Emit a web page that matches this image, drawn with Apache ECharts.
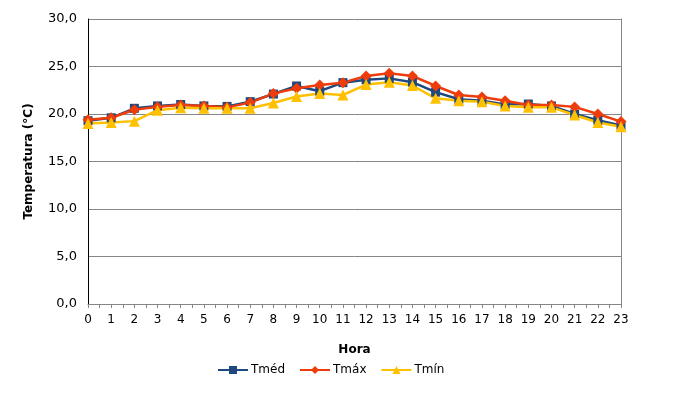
<!DOCTYPE html>
<html lang="pt">
<head>
    <meta charset="UTF-8">
    <title>Temperatura por hora</title>
    <script src="https://cdn.jsdelivr.net/npm/echarts@6/dist/echarts.min.js"></script>
    <style>
        html, body { margin: 0; padding: 0; background: #fff; }
        #chart { width: 678px; height: 402px; }
    </style>
</head>
<body>
<div id="chart"></div>
<script>
    // dados
    var horas = [0, 1, 2, 3, 4, 5, 6, 7, 8, 9, 10, 11, 12, 13, 14, 15, 16, 17, 18, 19, 20, 21, 22, 23];
    var tMed = [19.3, 19.6, 20.6, 20.85, 21.0, 20.85, 20.8, 21.3, 22.1, 22.95, 22.4, 23.3, 23.6, 23.75, 23.35, 22.3, 21.55, 21.4, 21.0, 21.05, 20.85, 20.0, 19.35, 18.8];
    var tMax = [19.4, 19.6, 20.45, 20.75, 20.95, 20.85, 20.7, 21.2, 22.15, 22.7, 23.05, 23.3, 24.0, 24.3, 24.0, 22.95, 22.0, 21.8, 21.4, 20.95, 20.95, 20.75, 20.0, 19.2];
    var tMin = [19.0, 19.1, 19.25, 20.4, 20.65, 20.6, 20.6, 20.6, 21.15, 21.85, 22.15, 22.0, 23.1, 23.35, 23.0, 21.65, 21.4, 21.3, 20.85, 20.7, 20.7, 19.9, 19.1, 18.65];
    var nomes = ['Tméd', 'Tmáx', 'Tmín'];

    function pares(valores) {
        return horas.map(function (h, i) { return [h, valores[i]]; });
    }

    var fonte = 'DejaVu Sans';
    var chart = echarts.init(document.getElementById('chart'));

    function serie(nome, dados, cor, simbolo, tamanho) {
        return {
            name: nome,
            type: 'line',
            data: pares(dados),
            symbol: simbolo,
            symbolSize: tamanho,
            lineStyle: { color: cor, width: 2.5 },
            itemStyle: { color: cor },
            animation: false
        };
    }

    var options = {
        textStyle: { fontFamily: fonte },
        grid: { left: 88, right: 57, top: 19, bottom: 98 },
        legend: {
            data: nomes,
            top: 359,
            left: 212,
            itemWidth: 30,
            itemHeight: 10,
            itemGap: 14,
            textStyle: { fontFamily: fonte, fontSize: 12, color: '#000', padding: [0, 0, 0, -2] }
        },
        xAxis: {
            type: 'value',
            min: 0,
            max: 23,
            interval: 1,
            name: 'Hora',
            nameLocation: 'middle',
            nameGap: 40,
            nameTextStyle: { fontFamily: fonte, fontSize: 12, fontWeight: 'bold', color: '#000' },
            axisLine: { lineStyle: { color: '#868686', width: 1 } },
            axisTick: { show: true, length: 4, lineStyle: { color: '#868686' } },
            minorTick: { show: true, splitNumber: 2, length: 4, lineStyle: { color: '#868686' } },
            splitLine: { show: false },
            axisLabel: { margin: 10, fontFamily: fonte, fontSize: 12, color: '#000' }
        },
        yAxis: [
            {
                type: 'value',
                min: 0,
                max: 30,
                interval: 5,
                name: 'Temperatura (°C)',
                nameLocation: 'middle',
                nameGap: 53,
                nameTextStyle: { fontFamily: fonte, fontSize: 12, fontWeight: 'bold', color: '#000' },
                axisLine: { show: true, lineStyle: { color: '#000', width: 1 } },
                axisTick: { show: false },
                splitLine: { lineStyle: { color: '#868686', width: 1 } },
                axisLabel: {
                    margin: 11,
                    fontFamily: fonte,
                    fontSize: 13,
                    color: '#000',
                    formatter: function (v) { return v.toFixed(1).replace('.', ','); }
                }
            },
            {
                type: 'value',
                position: 'right',
                min: 0,
                max: 30,
                interval: 5,
                axisLine: { show: true, lineStyle: { color: '#868686', width: 1 } },
                axisTick: { show: false },
                axisLabel: { show: false },
                splitLine: { show: false }
            }
        ],
        series: [
            serie(nomes[0], tMed, '#1F497D', 'rect', 9),
            serie(nomes[1], tMax, '#EE3D0B', 'diamond', 11),
            serie(nomes[2], tMin, '#FFC000', 'triangle', 11)
        ]
    };

    chart.setOption(options);
</script>
</body>
</html>
